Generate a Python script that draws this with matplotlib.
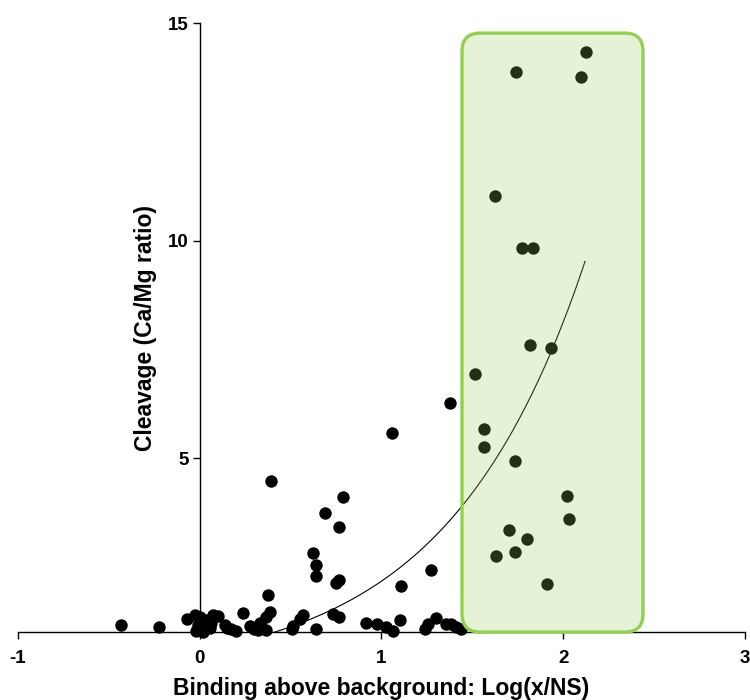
import matplotlib.pyplot as plt
from matplotlib.patches import FancyBboxPatch
import numpy as np

plt.rcParams['font.family'] = ['Liberation Sans', 'DejaVu Sans']
plt.rcParams['font.weight'] = 'bold'
plt.rcParams['axes.unicode_minus'] = False

# -------------------------------
# Data
# -------------------------------
binding = [
    -0.435, -0.222, -0.070, -0.028, 0.000, -0.010, 0.009, 0.020, 0.037, 0.060,
    0.075, 0.100, 0.055, 0.138, 0.150, 0.174, 0.202, 0.238, 0.275, 0.300,
    0.320, 0.330, 0.365, 0.367, 0.389, 0.378, 0.394, 0.505, 0.513, 0.550,
    0.569, 0.642, 0.624, 0.638, 0.638, 0.690, 0.767, 0.789, 0.752, 0.767,
    0.734, 0.767, 0.913, 0.978, 1.027, 1.064, 1.060, 1.100, 1.108, 1.238,
    1.256, 1.275, 1.299, 1.357, 1.379, 1.385, 1.412, 1.440, 0.010, -0.020,
    0.030,
    1.515, 1.563, 1.563, 1.625, 1.632, 1.702, 1.733, 1.735, 1.739, 1.775,
    1.803, 1.819, 1.834, 1.913, 1.935, 2.023, 2.031, 2.096, 2.128,
]
cleavage = [
    1.16, 1.12, 1.30, 1.39, 1.35, 1.16, 1.05, 1.00, 1.28, 1.20,
    1.39, 1.38, 1.09, 1.16, 1.10, 1.08, 1.02, 1.44, 1.14, 1.08,
    1.05, 1.20, 1.05, 1.35, 1.47, 1.86, 4.48, 1.06, 1.14, 1.30,
    1.39, 1.07, 2.81, 2.54, 2.29, 3.74, 3.42, 4.10, 2.13, 2.20,
    1.41, 1.35, 1.21, 1.18, 1.12, 1.02, 5.58, 1.27, 2.06, 1.07,
    1.18, 2.43, 1.33, 1.18, 6.26, 1.18, 1.12, 1.08, 1.22, 1.02,
    1.12,
    6.93, 5.67, 5.25, 11.03, 2.75, 3.34, 4.94, 2.83, 13.88, 9.83,
    3.14, 7.60, 9.83, 2.11, 7.52, 4.14, 3.60, 13.77, 14.34,
]

# exponential fit y = a * exp(b * x)
fit_a = 0.58
fit_b = 1.32
fit_start, fit_end = 0.40, 2.12

# highlighted region
box_x0, box_x1 = 1.443, 2.439
box_y0, box_y1 = 1.0, 14.77

# -------------------------------
# Plot
# -------------------------------
fig = plt.figure(figsize=(7.5, 7), dpi=100)
ax = fig.add_axes([0.024, 0.097, 0.9693, 0.870])

ax.scatter(binding, cleavage, s=80, color='black', zorder=3, clip_on=False,
           linewidths=0)

xfit = np.linspace(fit_start, fit_end, 200)
ax.plot(xfit, fit_a * np.exp(fit_b * xfit), color='black', lw=0.8, zorder=2)

ax.set_xlim(-1, 3)
ax.set_ylim(1, 15)

# rounded corners need the data aspect of the axes
bbox = ax.get_window_extent()
aspect = (14 / bbox.height) / (4 / bbox.width)
box = FancyBboxPatch((box_x0, box_y0), box_x1 - box_x0, box_y1 - box_y0,
                     boxstyle="round,pad=0,rounding_size=0.1",
                     mutation_aspect=aspect,
                     facecolor=(0.573, 0.816, 0.314, 0.24),
                     edgecolor='#92d050', lw=2.4, zorder=4, clip_on=False)
ax.add_patch(box)

ax.spines['top'].set_visible(False)
ax.spines['right'].set_visible(False)
ax.spines['left'].set_position(('data', 0))
ax.spines['left'].set_linewidth(1.0)
ax.spines['bottom'].set_linewidth(1.0)

ax.set_xticks([-1, 0, 1, 2, 3])
ax.set_yticks([5, 10, 15])
ax.tick_params(direction='out', length=5, width=1.0, labelsize=13.5)
ax.tick_params(axis='x', pad=8)
ax.tick_params(axis='y', pad=3)

ax.set_xlabel('Binding above background: Log(x/NS)', fontsize=16.5,
              fontweight='bold', labelpad=7)
ax.set_ylabel('Cleavage (Ca/Mg ratio)', fontsize=16.5, fontweight='bold',
              labelpad=8)

fig.savefig('out.png', dpi=100)
plt.close()
